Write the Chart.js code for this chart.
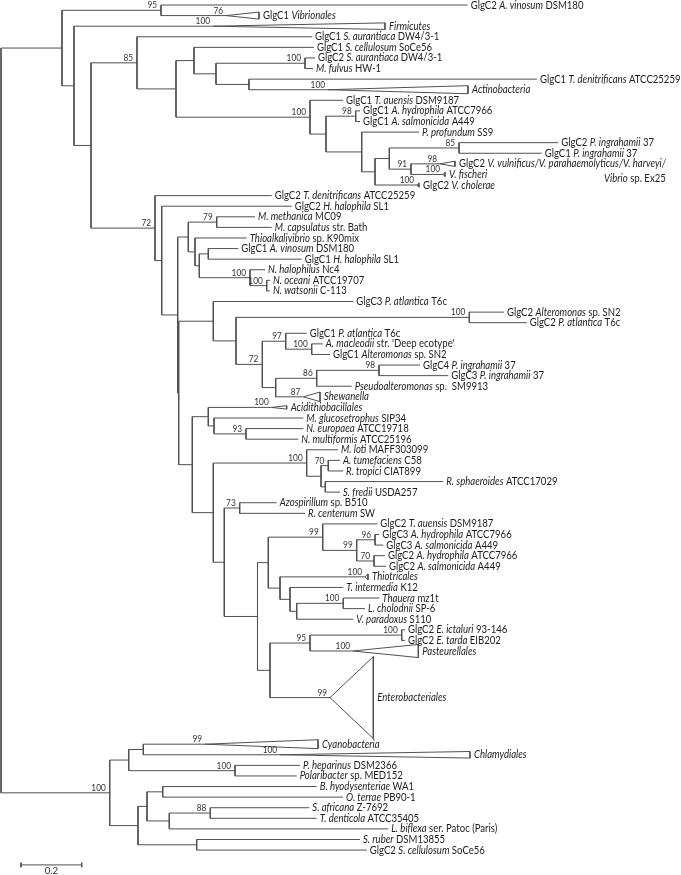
<!DOCTYPE html>
<html>
<head>
<meta charset="utf-8">
<script src="https://cdn.jsdelivr.net/npm/chart.js@4.4.1/dist/chart.umd.min.js"></script>
<style>
  html, body { margin: 0; padding: 0; background: #fff; }
  #wrap { width: 681px; height: 875px; position: relative; }
</style>
</head>
<body>
<div id="wrap"><canvas id="tree"></canvas></div>
<script>
// Internal nodes: name, parent, distance from root (substitutions/site), bootstrap support
const nodeNames = ['root','A','B','C','D','E','F','G','H','I','J','K','L','M','N','O','P','Q','R',
  'S','T','U','W','N79','W2','W3','W4','NN','NN2','U2','X','Y','Z','AA','BB','CC','DD','EE','FF',
  'V','GG0','GG','GG2','HH','II','JJ','KK','LL','MM','N73','NN2b','OO','PP','QQ','QQa','QQb',
  'RR','SS','TT','UU','VV','WW','WW1','XX','YY','ZZ','YY2','AB','AC','AD','AE','AG','AF'];
const nodeParent = [null,'root','A','A','C','D','E','F','G','H','H','F','K','L','L','N','O','P','P',
  'D','S','T','U','W','W','W2','W3','W3','NN','U','U2','X','Y','Y','AA','BB','AA','DD','EE',
  'U2','V','GG0','GG','V','HH','II','JJ','JJ','HH','MM','MM','NN2b','OO','PP','QQ','QQ',
  'OO','RR','SS','TT','NN2b','VV','WW','root','XX','YY','YY','XX','AB','AC','AC','AE','AB'];
const nodeDepth = [0,0.2010,0.5272,0.2405,0.2965,0.4481,0.5766,0.6359,0.7084,1.0016,0.8171,1.0181,1.0708,1.1687,1.1885,1.2323,1.2794,1.5091,1.3509,
  0.5074,0.5295,0.5822,0.6171,0.7107,0.6392,0.6534,0.6830,0.8204,0.8755,0.5855,0.6995,0.7743,1.5430,0.8610,0.9381,1.0237,0.9051,1.0402,1.2455,
  0.6303,0.6830,0.7018,0.8072,0.6995,1.0072,1.0544,1.0784,1.0685,0.7357,0.7865,0.8451,0.8807,1.0600,1.1720,1.2323,1.2290,
  0.9193,0.9522,0.9743,1.1278,0.8863,1.0181,1.3203,0.3582,0.4208,0.4689,0.7710,0.4514,0.4811,0.5328,0.5545,0.6896,0.6448];
const nodeSupport = [null,null,'95',null,null,'85',null,null,null,'100',null,'100',null,'98',null,null,null,'85','91',
  '72',null,null,null,'79',null,null,null,'100','100',null,null,null,'100','72','97','100',null,'86','98',
  null,null,null,'93',null,'100',null,'70',null,null,'73',null,null,'99','99','96','70',
  null,null,null,'100',null,'95','100','100',null,null,'100',null,null,null,null,'88',null];

// Leaves (top to bottom); *text* is set in italics
const leafLabels = [
  'GlgC2 *A. vinosum* DSM180','GlgC1 *Vibrionales*','*Firmicutes*','GlgC1 *S. aurantiaca* DW4/3-1',
  'GlgC1 *S. cellulosum* SoCe56','GlgC2 *S. aurantiaca* DW4/3-1','*M. fulvus* HW-1','GlgC1 *T. denitrificans* ATCC25259',
  '*Actinobacteria*','GlgC1 *T. auensis* DSM9187','GlgC1 *A. hydrophila* ATCC7966','GlgC1 *A. salmonicida* A449',
  '*P. profundum* SS9','GlgC2 *P. ingrahamii* 37','GlgC1 *P. ingrahamii* 37',
  'GlgC2 *V. vulnificus/V. parahaemolyticus/V. harveyi/*\n*Vibrio* sp. Ex25','*V. fischeri*','GlgC2 *V. cholerae*',
  'GlgC2 *T. denitrificans* ATCC25259','GlgC2 *H. halophila* SL1','*M. methanica* MC09','*M. capsulatus* str. Bath',
  '*Thioalkalivibrio* sp. K90mix','GlgC1 *A. vinosum* DSM180','GlgC1 *H. halophila* SL1','*N. halophilus* Nc4',
  '*N. oceani* ATCC19707','*N. watsonii* C-113','GlgC3 *P. atlantica* T6c','GlgC2 *Alteromonas* sp. SN2',
  'GlgC2 *P. atlantica* T6c','GlgC1 *P. atlantica* T6c',"*A. macleodii* str. 'Deep ecotype'",'GlgC1 *Alteromonas* sp. SN2',
  'GlgC4 *P. ingrahamii* 37','GlgC3 *P. ingrahamii* 37','*Pseudoalteromonas* sp.  SM9913','*Shewanella*',
  '*Acidithiobacillales*','*M. glucosetrophus* SIP34','*N. europaea* ATCC19718','*N. multiformis* ATCC25196',
  '*M. loti* MAFF303099','*A. tumefaciens* C58','*R. tropici* CIAT899','*R. sphaeroides* ATCC17029',
  '*S. fredii* USDA257','*Azospirillum* sp. B510','*R. centenum* SW','GlgC2 *T. auensis* DSM9187',
  'GlgC3 *A. hydrophila* ATCC7966','GlgC3 *A. salmonicida* A449','GlgC2 *A. hydrophila* ATCC7966','GlgC2 *A. salmonicida* A449',
  '*Thiotricales*','*T. intermedia* K12','*Thauera* mz1t','*L. cholodnii* SP-6','*V. paradoxus* S110',
  'GlgC2 *E. ictaluri* 93-146','GlgC2 *E. tarda* EIB202','*Pasteurellales*','*Enterobacteriales*',
  '*Cyanobacteria*','*Chlamydiales*','*P. heparinus* DSM2366','*Polaribacter* sp. MED152','*B. hyodysenteriae* WA1',
  '*O. terrae* PB90-1','*S. africana* Z-7692','*T. denticola* ATCC35405','*L. biflexa* ser. Patoc (Paris)',
  '*S. ruber* DSM13855','GlgC2 *S. cellulosum* SoCe56'];
const leafParent = ['B','B','C','E','G','I','I','J','J','K','M','M','N','Q','Q','R','R','O',
  'S','T','N79','N79','W2','W4','W4','NN','NN2','NN2','X','Z','Z','BB','CC','CC','FF','FF','EE','DD',
  'GG0','GG','GG2','GG2','II','KK','KK','LL','LL','N73','N73','PP','QQa','QQa','QQb','QQb',
  'RR','SS','UU','UU','TT','WW1','WW1','WW','VV','ZZ','ZZ','YY2','YY2','AD','AD','AG','AG','AE','AF','AF'];
// tip depth (for collapsed clades: far edge of the triangle)
const leafDepth = [1.5377,0.8501,1.2652,1.0247,1.0313,1.0346,1.0280,1.7661,1.5387,1.1269,1.1829,1.1829,
  1.3773,1.8362,1.7815,1.4959,1.4629,1.3773,0.8919,0.9578,0.8369,0.8919,0.8096,0.7819,0.9908,0.8699,
  0.8863,0.8863,1.1608,1.6573,1.7321,1.0072,1.0600,1.0840,1.3806,1.4738,1.1555,1.0511,0.9414,0.9960,
  0.9960,0.9796,1.1104,1.1170,1.1269,1.4573,1.1170,0.9084,1.0016,1.2399,1.2465,1.2596,1.2652,1.2685,
  1.2092,1.1278,1.2465,1.1993,1.1608,1.3311,1.3311,1.3750,1.2267,1.0445,1.5453,0.9852,0.9743,1.0402,
  1.1269,1.0158,1.0402,1.2761,1.1829,1.2053];
// collapsed clades: apex depth, half height (rows), rows taken, support
const cladeLabels = ['GlgC1 *Vibrionales*','*Firmicutes*','*Actinobacteria*',
  'GlgC2 *V. vulnificus/V. parahaemolyticus/V. harveyi/*\n*Vibrio* sp. Ex25','*V. fischeri*','GlgC2 *V. cholerae*',
  '*Shewanella*','*Acidithiobacillales*','*Thiotricales*','*Pasteurellales*','*Enterobacteriales*',
  '*Cyanobacteria*','*Chlamydiales*'];
const cladeApex = [0.7414,0.6985,1.0774,1.4465,1.4563,1.3707,0.9960,0.8919,1.1993,1.1598,1.0840,0.6722,0.9193];
const cladeHalf = [0.33,0.31,0.38,0.25,0.2,0.2,0.45,0.16,0.28,0.62,3.87,0.42,0.31];
const cladeRows = [1,1,1,1,1,1,1,1,1,1,7.8,1,1];
const cladeSupport = ['76','100','100','98','100','100','87','100','100','100','99','99','100'];

const scaleBarLength = 0.2;

// ---- layout helpers ----
const ROW_PX = 10.59, TOP_PX = 5, UNIT_PX = 303.5;
const W = 681, H = 875;
const lineColor = '#505050';
const textColor = '#1c1c1c';
const fontFamily = 'Lato, "Open Sans", sans-serif';
const SQUEEZE = 0.87; // the original face is narrower than Lato

const cladeOf = l => cladeLabels.indexOf(l);
const leafRows = [];
leafLabels.forEach((l, i) => {
  const span = cladeOf(l) >= 0 ? cladeRows[cladeOf(l)] : 1;
  if (i === 0) { leafRows.push(0); return; }
  const prev = leafLabels[i - 1];
  const prevSpan = cladeOf(prev) >= 0 ? cladeRows[cladeOf(prev)] : 1;
  leafRows.push(leafRows[i - 1] + (prevSpan + span) / 2);
});

const nodeIndex = {};
nodeNames.forEach((n, i) => nodeIndex[n] = i);
const rowMemo = {};
function childRows(name) {
  const rows = [];
  leafParent.forEach((p, i) => { if (p === name) rows.push(leafRows[i]); });
  nodeParent.forEach((p, i) => { if (p === name) rows.push(nodeRow(nodeNames[i])); });
  return rows;
}
function nodeRow(name) {
  if (rowMemo[name] === undefined) {
    const r = childRows(name);
    rowMemo[name] = (Math.min(...r) + Math.max(...r)) / 2;
  }
  return rowMemo[name];
}
const gap = () => ({x: null, y: null});

const edges = [];
nodeNames.forEach((name, i) => {
  const rows = childRows(name);
  edges.push({x: nodeDepth[i], y: Math.min(...rows)}, {x: nodeDepth[i], y: Math.max(...rows)}, gap());
  const p = nodeParent[i];
  if (p) edges.push({x: nodeDepth[nodeIndex[p]], y: nodeRow(name)}, {x: nodeDepth[i], y: nodeRow(name)}, gap());
});
leafLabels.forEach((l, i) => {
  const r = leafRows[i];
  const c = cladeOf(l);
  const from = nodeDepth[nodeIndex[leafParent[i]]];
  const to = c >= 0 ? cladeApex[c] : leafDepth[i];
  edges.push({x: from, y: r}, {x: to, y: r}, gap());
  if (c >= 0) {
    const h = cladeHalf[c];
    edges.push({x: to, y: r}, {x: leafDepth[i], y: r - h}, {x: leafDepth[i], y: r + h}, {x: to, y: r}, gap());
  }
});

// scale bar
const barStart = 0.0659, barRow = 81.2;
const scaleBar = [
  {x: barStart, y: barRow - 0.22}, {x: barStart, y: barRow + 0.22}, gap(),
  {x: barStart, y: barRow}, {x: barStart + scaleBarLength, y: barRow}, gap(),
  {x: barStart + scaleBarLength, y: barRow - 0.22}, {x: barStart + scaleBarLength, y: barRow + 0.22}
];

function richWidth(ctx, text, size) {
  let w = 0;
  text.split('*').forEach((p, k) => {
    if (!p) return;
    ctx.font = (k % 2 ? 'italic ' : '') + size + 'px ' + fontFamily;
    w += ctx.measureText(p).width;
  });
  return w * SQUEEZE;
}
function drawRich(ctx, text, x, y, size) {
  ctx.save();
  ctx.translate(x, y);
  ctx.scale(SQUEEZE, 1);
  let cx = 0;
  text.split('*').forEach((p, k) => {
    if (!p) return;
    ctx.font = (k % 2 ? 'italic ' : '') + size + 'px ' + fontFamily;
    ctx.fillText(p, cx, 0);
    cx += ctx.measureText(p).width;
  });
  ctx.restore();
  return x + cx * SQUEEZE;
}
function drawSmall(ctx, text, x, y) {
  ctx.save();
  ctx.translate(x, y);
  ctx.scale(SQUEEZE, 1);
  ctx.fillText(text, 0, 0);
  ctx.restore();
}

const labelPlugin = {
  id: 'treeLabels',
  afterDatasetsDraw(chart) {
    const {ctx, scales} = chart;
    const xs = scales.x, ys = scales.y;
    ctx.save();
    ctx.fillStyle = textColor;
    ctx.textBaseline = 'middle';
    ctx.textAlign = 'left';
    leafLabels.forEach((l, i) => {
      const c = cladeOf(l);
      const x = xs.getPixelForValue(leafDepth[i]) + (c >= 0 ? 4 : 3);
      const y = ys.getPixelForValue(leafRows[i]);
      const lines = l.split('\n');
      const end = drawRich(ctx, lines[0], x, y, 11);
      if (lines[1]) drawRich(ctx, lines[1], end - richWidth(ctx, lines[1], 11), y + 14.5, 11);
    });
    // support values
    ctx.fillStyle = '#333';
    ctx.font = '9.5px ' + fontFamily;
    ctx.textAlign = 'right';
    ctx.textBaseline = 'alphabetic';
    nodeNames.forEach((n, i) => {
      if (!nodeSupport[i]) return;
      drawSmall(ctx, nodeSupport[i], xs.getPixelForValue(nodeDepth[i]) - 4, ys.getPixelForValue(nodeRow(n)) - 2);
    });
    cladeLabels.forEach((l, c) => {
      const i = leafLabels.indexOf(l);
      drawSmall(ctx, cladeSupport[c], xs.getPixelForValue(cladeApex[c]) - 3, ys.getPixelForValue(leafRows[i]) - 2);
    });
    // scale bar label
    ctx.textAlign = 'center';
    ctx.textBaseline = 'middle';
    ctx.font = '9.5px ' + fontFamily;
    ctx.fillText(String(scaleBarLength), xs.getPixelForValue(barStart + scaleBarLength / 2), ys.getPixelForValue(barRow) + 6.5);
    ctx.restore();
  }
};

new Chart(document.getElementById('tree'), {
  type: 'scatter',
  data: {
    datasets: [
      {data: edges, showLine: true, borderColor: lineColor, borderWidth: 1, pointRadius: 0, spanGaps: false},
      {data: scaleBar, showLine: true, borderColor: lineColor, borderWidth: 1, pointRadius: 0, spanGaps: false}
    ]
  },
  options: {
    responsive: true,
    maintainAspectRatio: false,
    animation: false,
    events: [],
    layout: {padding: 0},
    plugins: {legend: {display: false}, tooltip: {enabled: false}},
    scales: {
      x: {type: 'linear', display: false, min: -1 / UNIT_PX, max: (W - 1) / UNIT_PX},
      y: {type: 'linear', display: false, reverse: true, min: -TOP_PX / ROW_PX, max: (H - TOP_PX) / ROW_PX}
    }
  },
  plugins: [labelPlugin]
});
</script>
</body>
</html>
